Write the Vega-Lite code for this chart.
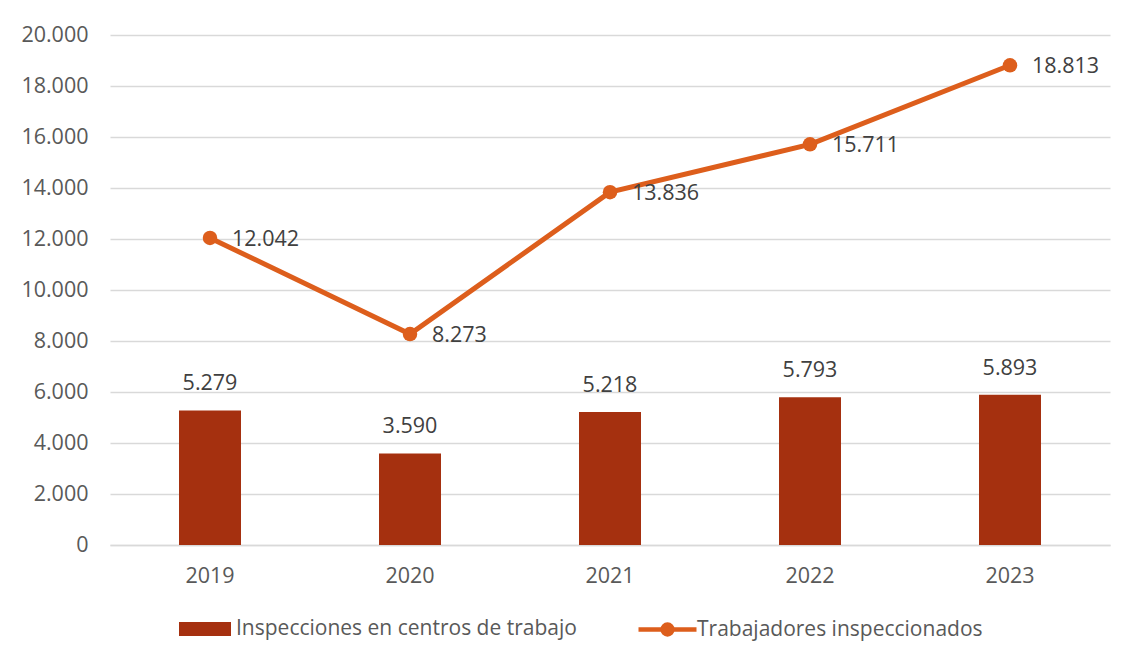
{
  "$schema": "https://vega.github.io/schema/vega-lite/v6.json",
  "width": 1000,
  "height": 510,
  "autosize": {"type": "none"},
  "padding": {"left": 110, "top": 35, "right": 22, "bottom": 122},
  "background": "white",
  "config": {
    "locale": {"number": {"decimal": ",", "thousands": ".", "grouping": [3], "currency": ["", " €"]}},
    "view": {"stroke": null},
    "font": "Open Sans",
    "axis": {"labelFont": "Open Sans", "labelFontSize": 21.5, "labelColor": "#595959", "titleFontSize": 20},
    "legend": {"labelFont": "Open Sans", "labelFontSize": 21, "labelColor": "#595959", "labelLimit": 0}
  },
  "data": {
    "values": [
      {"year": "2019", "inspecciones": 5279, "trabajadores": 12042, "s1": "Inspecciones en centros de trabajo", "s2": "Trabajadores inspeccionados"},
      {"year": "2020", "inspecciones": 3590, "trabajadores": 8273, "s1": "Inspecciones en centros de trabajo", "s2": "Trabajadores inspeccionados"},
      {"year": "2021", "inspecciones": 5218, "trabajadores": 13836, "s1": "Inspecciones en centros de trabajo", "s2": "Trabajadores inspeccionados"},
      {"year": "2022", "inspecciones": 5793, "trabajadores": 15711, "s1": "Inspecciones en centros de trabajo", "s2": "Trabajadores inspeccionados"},
      {"year": "2023", "inspecciones": 5893, "trabajadores": 18813, "s1": "Inspecciones en centros de trabajo", "s2": "Trabajadores inspeccionados"}
    ]
  },
  "encoding": {
    "x": {
      "field": "year", "type": "ordinal",
      "scale": {"paddingInner": 0, "paddingOuter": 0},
      "axis": {"title": null, "labelAngle": 0, "ticks": false, "domain": true, "domainColor": "#D9D9D9", "domainWidth": 1.5, "labelPadding": 20, "grid": false}
    }
  },
  "layer": [
    {
      "mark": {"type": "bar", "width": 62},
      "encoding": {
        "y": {
          "field": "inspecciones", "type": "quantitative",
          "scale": {"domain": [0, 20000], "nice": false},
          "axis": {"title": null, "values": [0, 2000, 4000, 6000, 8000, 10000, 12000, 14000, 16000, 18000, 20000], "format": ",.0f", "domain": false, "ticks": false, "labelPadding": 22, "grid": true, "gridColor": "#D9D9D9", "gridWidth": 1.5}
        },
        "fill": {
          "field": "s1", "type": "nominal",
          "scale": {"range": ["#A5300F"]},
          "legend": {
            "orient": "none", "legendX": 69, "legendY": 568, "title": null,
            "symbolType": "M-1,-0.27H1V0.27H-1Z", "symbolSize": 2704, "symbolStrokeWidth": 0, "labelOffset": 5
          }
        }
      }
    },
    {
      "mark": {"type": "text", "baseline": "middle", "align": "center", "dy": -26, "fontSize": 21.5, "color": "#404040", "font": "Open Sans"},
      "encoding": {
        "y": {"field": "inspecciones", "type": "quantitative"},
        "text": {"field": "inspecciones", "type": "quantitative", "format": ",.0f"}
      }
    },
    {
      "mark": {"type": "line", "strokeWidth": 5},
      "encoding": {
        "y": {"field": "trabajadores", "type": "quantitative"},
        "stroke": {
          "field": "s2", "type": "nominal",
          "scale": {"range": ["#DD5E1C"]},
          "legend": {
            "orient": "none", "legendX": 526, "legendY": 563, "title": null,
            "symbolType": "M-1,0H1M0.17,0A0.17,0.17 0 1 1 -0.17,0A0.17,0.17 0 1 1 0.17,0",
            "symbolSize": 3364, "symbolStrokeWidth": 4.5, "labelOffset": -2,
            "encode": {"symbols": {"update": {"fill": {"value": "#DD5E1C"}, "stroke": {"value": "#DD5E1C"}}}}
          }
        }
      }
    },
    {
      "mark": {"type": "point", "filled": true, "size": 210, "color": "#DD5E1C", "opacity": 1},
      "encoding": {
        "y": {"field": "trabajadores", "type": "quantitative"}
      }
    },
    {
      "mark": {"type": "text", "baseline": "middle", "align": "left", "dx": 22, "dy": 2, "fontSize": 21.5, "color": "#404040", "font": "Open Sans"},
      "encoding": {
        "y": {"field": "trabajadores", "type": "quantitative"},
        "text": {"field": "trabajadores", "type": "quantitative", "format": ",.0f"}
      }
    }
  ]
}
